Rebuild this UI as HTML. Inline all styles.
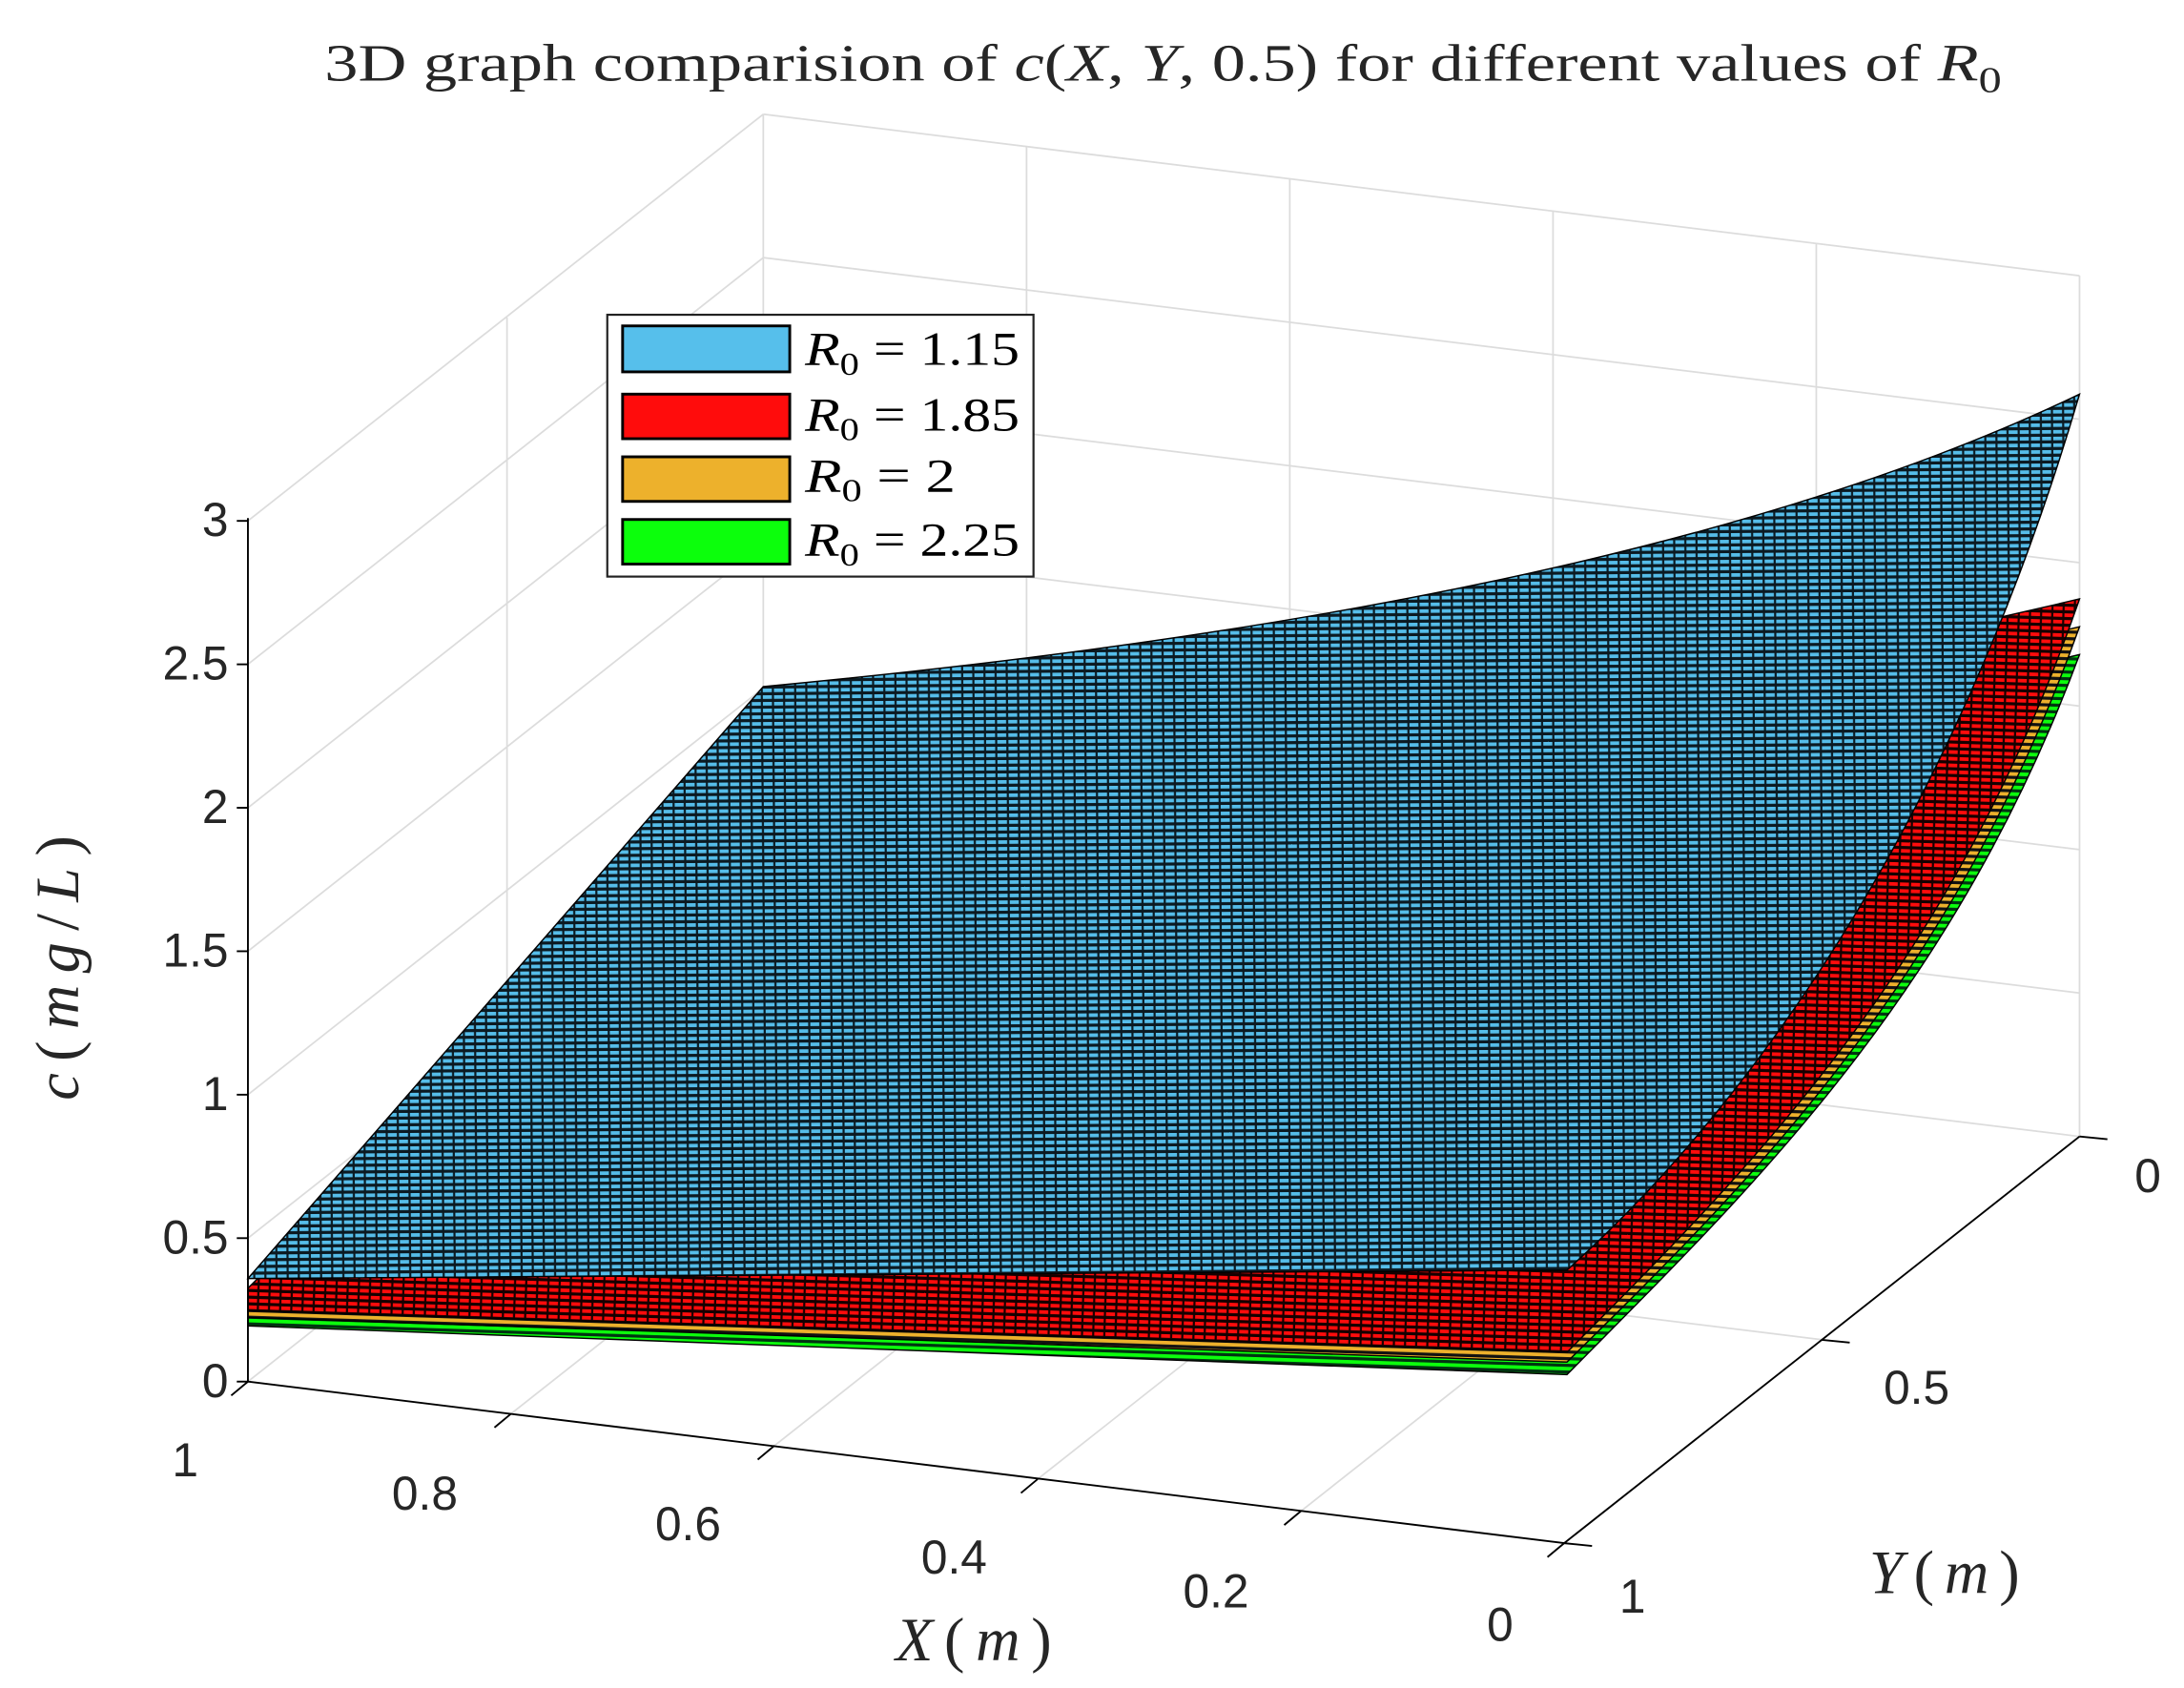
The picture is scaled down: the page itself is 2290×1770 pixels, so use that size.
<!DOCTYPE html>
<html><head><meta charset="utf-8"><style>html,body{margin:0;padding:0;background:#fff}svg{display:block}</style></head>
<body>
<svg width="2290" height="1770" viewBox="0 0 1568 1212" preserveAspectRatio="none" xmlns="http://www.w3.org/2000/svg">
<defs>
<pattern id="pb" width="8" height="4.8" patternUnits="userSpaceOnUse" patternTransform="rotate(-0.5)">
<rect width="8" height="4.8" fill="#56bde9"/><rect y="2.6" width="8" height="2.2" fill="#0b1a22"/><rect x="5.8" width="1.5" height="4.8" fill="#0b1a22"/></pattern>
<pattern id="pr" width="8" height="4.8" patternUnits="userSpaceOnUse" patternTransform="rotate(1.8)">
<rect width="8" height="4.8" fill="#ff0c0c"/><rect y="2.6" width="8" height="2.2" fill="#150000"/><rect x="5.8" width="1.5" height="4.8" fill="#150000"/></pattern>
<pattern id="po" width="8" height="4.8" patternUnits="userSpaceOnUse" patternTransform="rotate(1.8)">
<rect width="8" height="4.8" fill="#edb12c"/><rect y="2.6" width="8" height="2.2" fill="#111"/></pattern>
<pattern id="pg" width="8" height="4.8" patternUnits="userSpaceOnUse" patternTransform="rotate(1.8)">
<rect width="8" height="4.8" fill="#0cff0c"/><rect y="2.6" width="8" height="2.2" fill="#031"/></pattern>
</defs>
<rect width="1568" height="1212" fill="#fff"/>
<g stroke="#dcdcdc" stroke-width="1.2" fill="none">
<line x1="548" y1="82" x2="548" y2="700"/><line x1="737" y1="105" x2="737" y2="723"/><line x1="926" y1="128" x2="926" y2="746"/><line x1="1115" y1="152" x2="1115" y2="770"/><line x1="1304" y1="175" x2="1304" y2="793"/><line x1="1493" y1="198" x2="1493" y2="816"/>
<line x1="548" y1="82" x2="1493" y2="198"/><line x1="548" y1="185" x2="1493" y2="301"/><line x1="548" y1="288" x2="1493" y2="404"/><line x1="548" y1="391" x2="1493" y2="507"/><line x1="548" y1="494" x2="1493" y2="610"/><line x1="548" y1="597" x2="1493" y2="713"/><line x1="548" y1="700" x2="1493" y2="816"/>
<line x1="178" y1="374" x2="548" y2="82"/><line x1="178" y1="477" x2="548" y2="185"/><line x1="178" y1="580" x2="548" y2="288"/><line x1="178" y1="683" x2="548" y2="391"/><line x1="178" y1="786" x2="548" y2="494"/><line x1="178" y1="889" x2="548" y2="597"/><line x1="178" y1="992" x2="548" y2="700"/>
<line x1="364" y1="228" x2="364" y2="846"/>
<line x1="367" y1="1015" x2="737" y2="723"/><line x1="556" y1="1038" x2="926" y2="746"/><line x1="745" y1="1062" x2="1115" y2="770"/><line x1="934" y1="1085" x2="1304" y2="793"/>
<line x1="364" y1="846" x2="1309" y2="962"/>
</g>
<path d="M178,946 L178,952 L1125,987 C1250,860 1400,720 1493,470 C1200,540 900,570 548,585 Z" fill="url(#pg)" stroke="#000" stroke-width="1"/>
<path d="M178,940 L178,946 L1125,978 C1250,855 1400,710 1493,450 C1200,520 900,560 548,575 Z" fill="url(#po)" stroke="#000" stroke-width="1"/>
<path d="M178,925 L178,941 L1125,971 C1250,845 1400,700 1493,430 C1200,500 900,540 548,560 Z" fill="url(#pr)" stroke="#000" stroke-width="1"/>
<path d="M178,918 L1125,912 C1250,800 1400,600 1493,283 C1250,400 900,460 548,493 Z" fill="url(#pb)" stroke="#000" stroke-width="1"/>
<g stroke="#000" stroke-width="1.3" fill="none">
<line x1="178" y1="372" x2="178" y2="992"/>
<line x1="170" y1="374" x2="178" y2="374"/><line x1="170" y1="477" x2="178" y2="477"/><line x1="170" y1="580" x2="178" y2="580"/><line x1="170" y1="683" x2="178" y2="683"/><line x1="170" y1="786" x2="178" y2="786"/><line x1="170" y1="889" x2="178" y2="889"/><line x1="170" y1="992" x2="178" y2="992"/>
<line x1="178" y1="992" x2="1123" y2="1108"/>
<line x1="178" y1="992" x2="166" y2="1002"/><line x1="367" y1="1015" x2="355" y2="1025"/><line x1="556" y1="1038" x2="544" y2="1048"/><line x1="745" y1="1062" x2="733" y2="1072"/><line x1="934" y1="1085" x2="922" y2="1095"/><line x1="1123" y1="1108" x2="1111" y2="1118"/>
<line x1="1123" y1="1108" x2="1493" y2="816"/>
<line x1="1123" y1="1108" x2="1143" y2="1110"/><line x1="1308" y1="962" x2="1328" y2="964"/><line x1="1493" y1="816" x2="1513" y2="818"/>
</g>
<g font-family="Liberation Sans, sans-serif" font-size="34" fill="#262626">
<g text-anchor="end"><text x="164" y="385">3</text><text x="164" y="488">2.5</text><text x="164" y="591">2</text><text x="164" y="694">1.5</text><text x="164" y="797">1</text><text x="164" y="900">0.5</text><text x="164" y="1003">0</text></g>
<g text-anchor="middle"><text x="133" y="1060">1</text><text x="305" y="1084">0.8</text><text x="494" y="1106">0.6</text><text x="685" y="1130">0.4</text><text x="873" y="1154">0.2</text><text x="1077" y="1178">0</text>
<text x="1542" y="856">0</text><text x="1376" y="1008">0.5</text><text x="1172" y="1158">1</text></g>
</g>
<g font-family="Liberation Serif, serif" fill="#262626">
<text x="233" y="58" font-size="38" textLength="1204" lengthAdjust="spacingAndGlyphs">3D graph comparision of <tspan font-style="italic">c</tspan>(<tspan font-style="italic">X</tspan>, <tspan font-style="italic">Y</tspan>, 0.5) for different values of <tspan font-style="italic">R</tspan><tspan font-size="26" dy="8">0</tspan></text>
<text x="643" y="1192" font-size="44" textLength="112" lengthAdjust="spacing"><tspan font-style="italic">X</tspan>(<tspan font-style="italic">m</tspan>)</text>
<text x="1342" y="1144" font-size="44" textLength="108" lengthAdjust="spacing"><tspan font-style="italic">Y</tspan>(<tspan font-style="italic">m</tspan>)</text>
<text transform="translate(56,790) rotate(-90)" font-size="44" textLength="190" lengthAdjust="spacing"><tspan font-style="italic">c</tspan>(<tspan font-style="italic">mg</tspan>/<tspan font-style="italic">L</tspan>)</text>
</g>
<rect x="436" y="226" width="306" height="188" fill="#fff" stroke="#222" stroke-width="1.5"/>
<rect x="447" y="234" width="120" height="33" fill="#56bfeb" stroke="#000" stroke-width="2"/>
<rect x="447" y="283" width="120" height="32" fill="#ff0c0c" stroke="#000" stroke-width="2"/>
<rect x="447" y="328" width="120" height="32" fill="#edb12c" stroke="#000" stroke-width="2"/>
<rect x="447" y="373" width="120" height="32" fill="#0cff0c" stroke="#000" stroke-width="2"/>
<g font-family="Liberation Serif, serif" font-size="34" fill="#000">
<text x="578" y="262" textLength="154" lengthAdjust="spacingAndGlyphs"><tspan font-style="italic">R</tspan><tspan font-size="23" dy="7">0</tspan><tspan dy="-7"> = 1.15</tspan></text>
<text x="578" y="309" textLength="154" lengthAdjust="spacingAndGlyphs"><tspan font-style="italic">R</tspan><tspan font-size="23" dy="7">0</tspan><tspan dy="-7"> = 1.85</tspan></text>
<text x="578" y="353" textLength="108" lengthAdjust="spacingAndGlyphs"><tspan font-style="italic">R</tspan><tspan font-size="23" dy="7">0</tspan><tspan dy="-7"> = 2</tspan></text>
<text x="578" y="399" textLength="154" lengthAdjust="spacingAndGlyphs"><tspan font-style="italic">R</tspan><tspan font-size="23" dy="7">0</tspan><tspan dy="-7"> = 2.25</tspan></text>
</g>
</svg>
</body></html>
